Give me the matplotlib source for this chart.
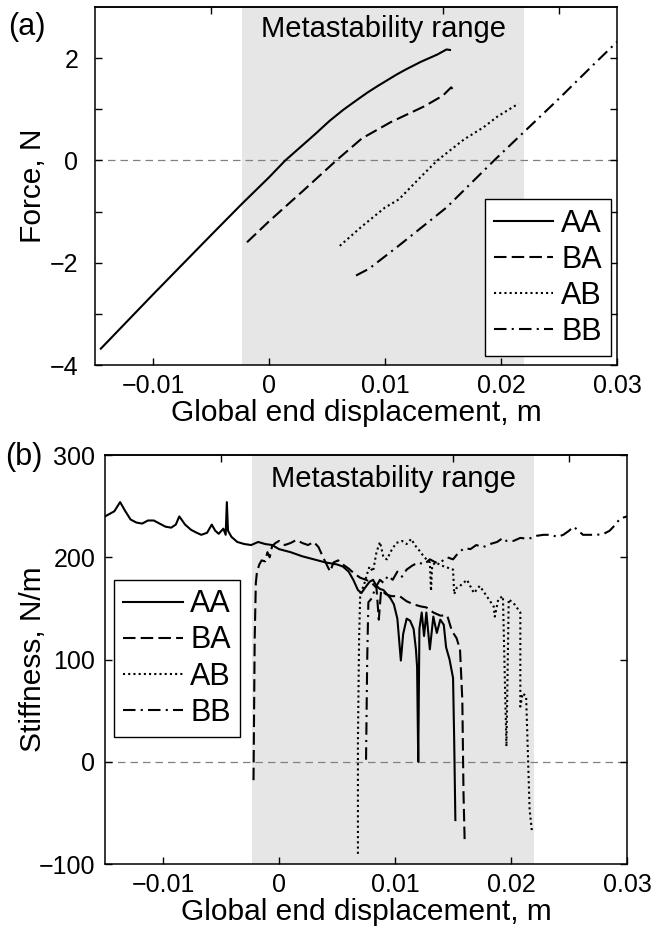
import matplotlib
matplotlib.use("Agg")
import matplotlib.pyplot as plt

plt.rcParams['font.family'] = ['Liberation Sans', 'DejaVu Sans']
plt.rcParams['font.size'] = 18

# ---- (a) force vs displacement ----
aa_x = [-0.0145, -0.0100, -0.0050, -0.0023, 0.0000, 0.0014, 0.0040, 0.0052,
        0.0064, 0.0075, 0.0085, 0.0094, 0.0102, 0.0110, 0.0118, 0.0131,
        0.0145, 0.0153, 0.0156]
aa_f = [-3.68, -2.62, -1.46, -0.84, -0.33, 0.00, 0.52, 0.77,
        0.99, 1.17, 1.33, 1.46, 1.57, 1.68, 1.78, 1.93,
        2.07, 2.17, 2.16]

ba_x = [-0.0019, 0.0000, 0.0030, 0.0058, 0.0080, 0.0105, 0.0134, 0.0150, 0.0157, 0.0160]
ba_f = [-1.60, -1.19, -0.58, 0.00, 0.43, 0.75, 1.06, 1.27, 1.43, 1.35]

ab_x = [0.0061, 0.0080, 0.0100, 0.0112, 0.0130, 0.0145, 0.0168, 0.0185, 0.0197, 0.0215]
ab_f = [-1.67, -1.29, -0.92, -0.76, -0.34, 0.00, 0.41, 0.65, 0.86, 1.11]

bb_x = [0.0075, 0.0086, 0.0110, 0.0153, 0.0194, 0.0219, 0.0250, 0.0280, 0.0300]
bb_f = [-2.25, -2.12, -1.70, -0.92, 0.00, 0.54, 1.21, 1.88, 2.32]

# ---- (b) stiffness vs displacement ----
aa_sx = [-0.0150, -0.0142, -0.0137, -0.0133, -0.0128, -0.0123, -0.0118, -0.0113,
         -0.0108, -0.0103, -0.0098, -0.0093, -0.0089, -0.0086, -0.0081, -0.0076,
         -0.0071, -0.0067, -0.0062, -0.0058, -0.0055, -0.0052, -0.0048, -0.0046,
         -0.0045, -0.0044, -0.0041, -0.0036, -0.0030, -0.0024, -0.0018, -0.0012,
         -0.0006, 0.0000, 0.0010, 0.0020, 0.0030, 0.0040, 0.0050, 0.0055,
         0.0060, 0.0064, 0.0068, 0.0071, 0.0074, 0.0078, 0.0081, 0.0084,
         0.0087, 0.0090, 0.0093, 0.0096, 0.0099, 0.0102, 0.0105, 0.0107,
         0.0110, 0.0113, 0.0116, 0.0118, 0.0119, 0.0120, 0.0121, 0.0123,
         0.0125, 0.0127, 0.0130, 0.0133, 0.0136, 0.0139, 0.0142, 0.0144,
         0.0147, 0.0150, 0.0151, 0.0152]
aa_k = [240, 245, 254, 246, 237, 234, 233, 236,
        236, 233, 230, 229, 232, 240, 232, 227,
        224, 222, 224, 232, 226, 223, 228, 222,
        254, 226, 220, 215, 213, 212, 215, 213,
        212, 208, 205, 201, 198, 195, 193, 191,
        186, 178, 168, 165, 170, 176, 178, 172,
        169, 168, 164, 160, 154, 140, 99, 125,
        140, 138, 130, 110, 93, 0, 130, 146,
        123, 146, 110, 142, 126, 139, 134, 112,
        100, 82, 20, -57]

ba_sx = [-0.0022, -0.0021, -0.0020, -0.0019, -0.0017, -0.0015, -0.0012, -0.0010,
         -0.0008, -0.0006, -0.0003, 0.0000, 0.0005, 0.0010, 0.0015, 0.0020,
         0.0025, 0.0030, 0.0034, 0.0038, 0.0041, 0.0044, 0.0047, 0.0051,
         0.0055, 0.0060, 0.0065, 0.0070, 0.0075, 0.0080, 0.0084, 0.0086,
         0.0088, 0.0092, 0.0097, 0.0104, 0.0110, 0.0116, 0.0122, 0.0127,
         0.0133, 0.0139, 0.0145, 0.0149, 0.0153, 0.0156, 0.0158, 0.0159, 0.0160]
ba_k = [-18, 120, 175, 186, 193, 197, 196, 205,
        200, 211, 214, 216, 212, 214, 217, 214,
        212, 215, 210, 200, 193, 186, 195, 197,
        193, 189, 184, 180, 178, 175, 170, 139,
        168, 164, 162, 162, 157, 154, 152, 151,
        146, 143, 143, 128, 121, 110, 60, -30, -77]

ab_sx = [0.0068, 0.0068, 0.0069, 0.0070, 0.0073, 0.0076, 0.0078, 0.0081,
         0.0084, 0.0087, 0.0090, 0.0093, 0.0097, 0.0101, 0.0106, 0.0110,
         0.0114, 0.0117, 0.0120, 0.0124, 0.0127, 0.0130, 0.0131, 0.0132,
         0.0135, 0.0140, 0.0145, 0.0150, 0.0151, 0.0153, 0.0156, 0.0162,
         0.0168, 0.0173, 0.0179, 0.0185, 0.0186, 0.0189, 0.0193, 0.0196,
         0.0198, 0.0203, 0.0208, 0.0208, 0.0210, 0.0213, 0.0216, 0.0218]
ab_k = [-90, 20, 120, 165, 172, 184, 191, 186,
        205, 215, 200, 198, 207, 214, 216, 213,
        218, 212, 208, 202, 198, 195, 167, 192,
        195, 192, 190, 188, 164, 170, 172, 178,
        165, 172, 162, 152, 142, 159, 162, 15,
        159, 154, 146, 54, 67, 64, -47, -68]

bb_sx = [0.0075, 0.0076, 0.0077, 0.0080, 0.0083, 0.0087, 0.0090, 0.0094,
         0.0098, 0.0102, 0.0106, 0.0110, 0.0115, 0.0120, 0.0125, 0.0130,
         0.0135, 0.0139, 0.0145, 0.0150, 0.0155, 0.0160, 0.0165, 0.0170,
         0.0176, 0.0182, 0.0188, 0.0193, 0.0196, 0.0202, 0.0208, 0.0215,
         0.0222, 0.0228, 0.0234, 0.0240, 0.0245, 0.0250, 0.0254, 0.0258,
         0.0262, 0.0268, 0.0274, 0.0280, 0.0285, 0.0290, 0.0294, 0.0300]
bb_k = [2, 100, 156, 160, 170, 178, 175, 182,
        178, 186, 181, 188, 192, 195, 193, 198,
        195, 195, 200, 198, 205, 209, 208, 212,
        210, 213, 215, 219, 216, 216, 219, 218,
        221, 222, 222, 220, 222, 226, 230, 226,
        222, 222, 222, 223, 226, 232, 238, 240]

labels = ['AA', 'BA', 'AB', 'BB']
meta_lo, meta_hi = -0.0023, 0.022

styles = [dict(ls='-'), dict(ls=(0, (6, 2.5))), dict(ls=(0, (1, 1.5))),
          dict(ls=(0, (6, 2.5, 1, 2.5)))]

leg_kw = dict(borderaxespad=0, fontsize=22, fancybox=False, edgecolor='black',
              framealpha=1, handlelength=1.95, labelspacing=0.2, borderpad=0.3,
              handletextpad=0.25)

fig = plt.figure(figsize=(6.54, 9.35), dpi=100)
ax1 = fig.add_axes([0.1453, 0.6096, 0.7982, 0.3829])
ax2 = fig.add_axes([0.1606, 0.0759, 0.7982, 0.4374])

for ax in (ax1, ax2):
    ax.axvspan(meta_lo, meta_hi, color='#e6e6e6', lw=0, zorder=0)
    ax.axhline(0, color='#808080', lw=0.9, ls=(0, (6, 4)), zorder=1)
    ax.set_xlim(-0.015, 0.03)
    ax.set_xticks([-0.01, 0, 0.01, 0.02, 0.03])
    ax.set_xticklabels(['\u22120.01', '0', '0.01', '0.02', '0.03'])
    ax.tick_params(direction='in', length=5, width=1, right=True, top=False)
    ax.tick_params(axis='x', pad=6.5)
    sec = ax.secondary_xaxis('top')
    sec.set_xticks([-0.005, 0.015, 0.025])
    sec.set_xticklabels([])
    sec.tick_params(direction='in', length=5, width=1)
    for s in sec.spines.values():
        s.set_linewidth(1.1)
    for s in ax.spines.values():
        s.set_linewidth(1.1)
    ax.set_xlabel('Global end displacement, m', fontsize=21.5, labelpad=1)

top_data = [(aa_x, aa_f), (ba_x, ba_f), (ab_x, ab_f), (bb_x, bb_f)]
for (xs, ys), lab, st in zip(top_data, labels, styles):
    ax1.plot(xs, ys, color='black', lw=1.5, label=lab, zorder=3, **st)
ax1.set_ylim(-4, 3)
ax1.set_yticks([-4, -3, -2, -1, 0, 1, 2])
ax1.set_yticklabels(['\u22124', '', '\u22122', '', '0', '', '2'])
ax1.tick_params(axis='y', pad=12)
ax1.set_ylabel('Force, N', fontsize=21.5)
ax1.yaxis.set_label_coords(-0.092, 0.5)
ax1.text((meta_lo + meta_hi) / 2, 2.57, 'Metastability range', ha='center',
         va='center', fontsize=21)
ax1.legend(loc='lower right', bbox_to_anchor=(0.9885, 0.025), **leg_kw)

bot_data = [(aa_sx, aa_k), (ba_sx, ba_k), (ab_sx, ab_k), (bb_sx, bb_k)]
for (xs, ys), lab, st in zip(bot_data, labels, styles):
    ax2.plot(xs, ys, color='black', lw=1.5, label=lab, zorder=3, **st)
ax2.set_ylim(-100, 300)
ax2.set_yticks([-100, 0, 100, 200, 300])
ax2.set_yticklabels(['\u2212100', '0', '100', '200', '300'])
ax2.tick_params(axis='y', pad=7)
ax2.set_ylabel('Stiffness, N/m', fontsize=21.5)
ax2.yaxis.set_label_coords(-0.111, 0.5)
ax2.text((meta_lo + meta_hi) / 2, 277, 'Metastability range', ha='center',
         va='center', fontsize=21)
ax2.legend(loc='upper left', bbox_to_anchor=(0.0172, 0.694), **leg_kw)

fig.text(0.041, 0.971, '(a)', fontsize=22, ha='center', va='center')
fig.text(0.037, 0.511, '(b)', fontsize=22, ha='center', va='center')

fig.savefig('out.png', dpi=100)
